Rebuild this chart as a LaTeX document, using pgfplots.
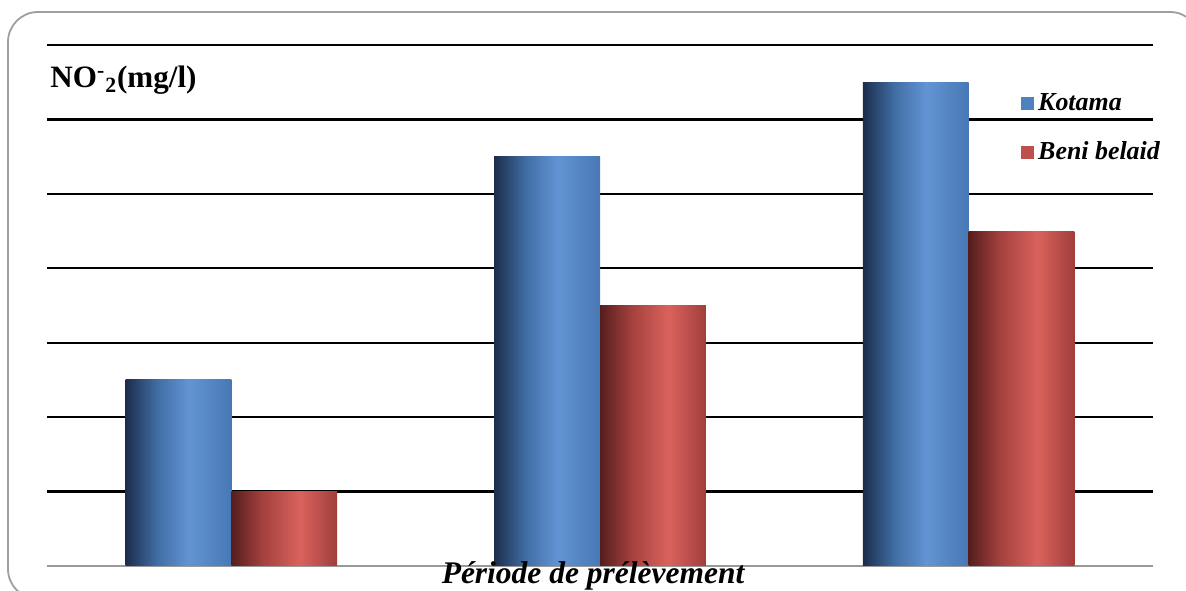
\documentclass[border=0pt]{standalone}
\usepackage{fontspec}
\setmainfont{Liberation Serif}
\usepackage{pgfplots}
\pgfplotsset{compat=1.18}
\definecolor{kb0}{RGB}{28,45,75}
\definecolor{kb1}{RGB}{65,110,165}
\definecolor{kb2}{RGB}{98,148,212}
\definecolor{kb3}{RGB}{72,120,180}
\definecolor{rb0}{RGB}{85,30,30}
\definecolor{rb1}{RGB}{165,65,62}
\definecolor{rb2}{RGB}{218,98,92}
\definecolor{rb3}{RGB}{160,62,60}
\definecolor{kleg}{RGB}{79,129,189}
\definecolor{rleg}{RGB}{192,80,77}
\pgfdeclarehorizontalshading{kotama}{100bp}{color(0bp)=(kb0); color(25bp)=(kb0); color(40bp)=(kb1); color(55bp)=(kb2); color(75bp)=(kb3); color(100bp)=(kb3)}
\pgfdeclarehorizontalshading{beni}{100bp}{color(0bp)=(rb0); color(25bp)=(rb0); color(40bp)=(rb1); color(57.5bp)=(rb2); color(75bp)=(rb3); color(100bp)=(rb3)}
\begin{document}
\begin{tikzpicture}
\useasboundingbox (0,0) rectangle (593bp,295.5bp);
\draw[gray!75, line width=0.9bp, rounded corners=15bp] (4bp,-4bp) rectangle (600bp,289.5bp);
\begin{axis}[
  at={(23.5bp,12.5bp)}, anchor=south west,
  scale only axis, width=553bp, height=260.5bp,
  xmin=-0.5, xmax=2.5, ymin=0, ymax=7,
  ytick={1,...,7}, yticklabels={}, xtick=\empty,
  major tick length=0pt,
  ymajorgrids, grid style={black, line width=1.2bp},
  axis x line*=bottom, axis y line*=left,
  y axis line style={draw=none},
  x axis line style={gray!80, line width=1bp, -},
  clip=false,
  legend style={at={(0.8807,0.915)}, anchor=north west, draw=none, fill=none,
    font=\bfseries\itshape\fontsize{13}{15}\selectfont, row sep=10bp, inner sep=0pt},
  legend cell align=left,
  legend image code/.code={\fill[#1] (0bp,-3bp) rectangle (6bp,3bp);},
]
\addplot[ybar, bar width=0.287, bar shift=-0.1435, draw=none, shading=kotama, shade, forget plot] coordinates {(0,2.5)};
\addplot[ybar, bar width=0.287, bar shift=-0.1435, draw=none, shading=kotama, shade, forget plot] coordinates {(1,5.5)};
\addplot[ybar, bar width=0.287, bar shift=-0.1435, draw=none, shading=kotama, shade, forget plot] coordinates {(2,6.5)};
\addplot[ybar, bar width=0.287, bar shift=0.1435, draw=none, shading=beni, shade, forget plot] coordinates {(0,1)};
\addplot[ybar, bar width=0.287, bar shift=0.1435, draw=none, shading=beni, shade, forget plot] coordinates {(1,3.5)};
\addplot[ybar, bar width=0.287, bar shift=0.1435, draw=none, shading=beni, shade, forget plot] coordinates {(2,4.5)};
\addlegendimage{kleg}
\addlegendentry{Kotama}
\addlegendimage{rleg}
\addlegendentry{Beni belaid}
\end{axis}
\node[anchor=base west, font=\bfseries\fontsize{15.6}{19}\selectfont, inner sep=0pt] at (25bp,251.5bp) {NO\textsuperscript{-}\textsubscript{2}(mg/l)};
\node[anchor=base, font=\bfseries\itshape\fontsize{15.8}{18}\selectfont, inner sep=0pt] at (296.5bp,4bp) {Période de prélèvement};
\end{tikzpicture}
\end{document}
